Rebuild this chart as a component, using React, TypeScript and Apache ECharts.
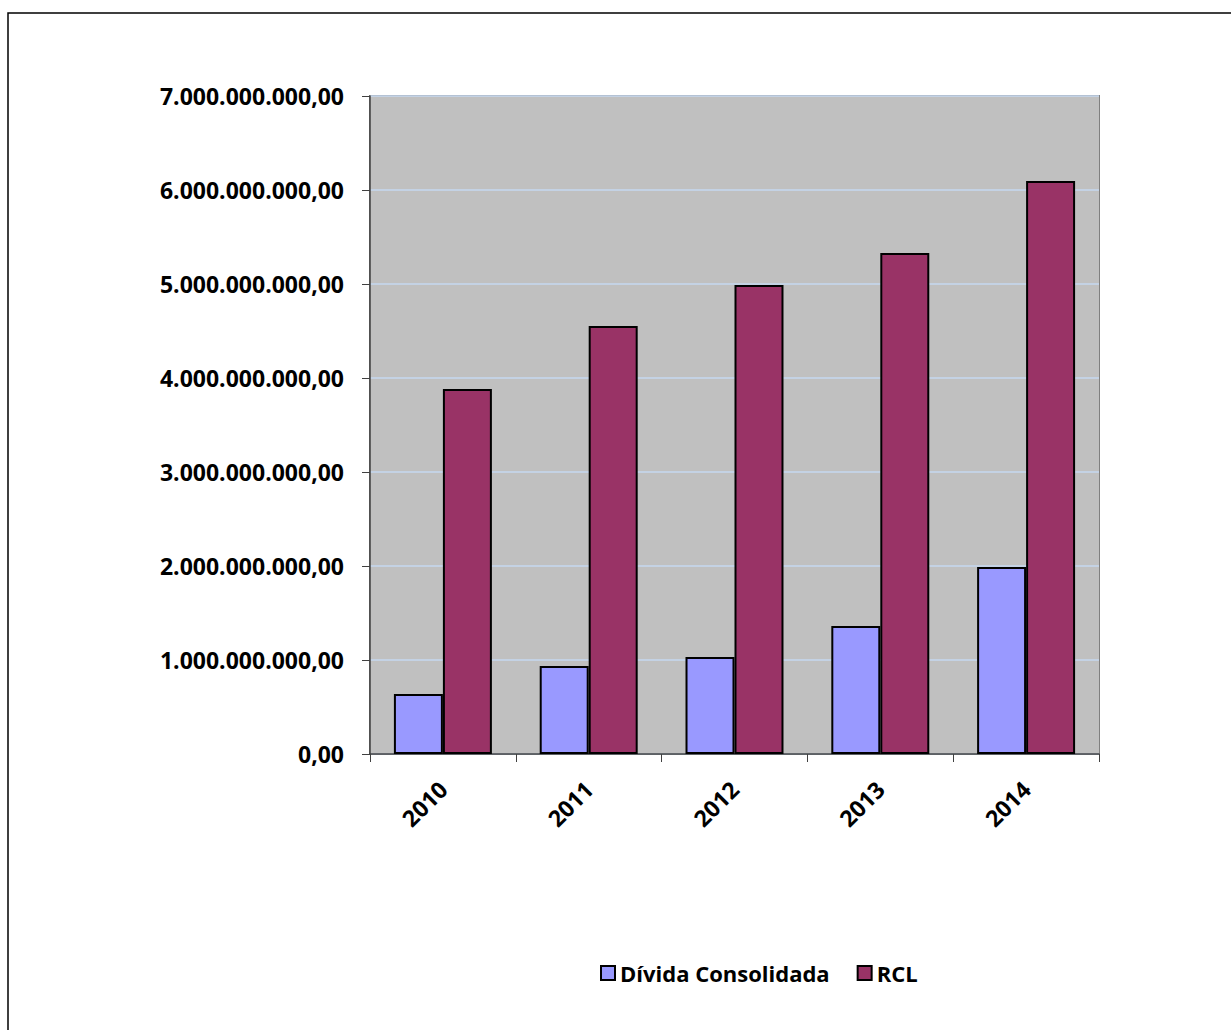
import React, { useEffect, useRef } from "react";
import * as echarts from "echarts";

const categories = ["2010", "2011", "2012", "2013", "2014"];
const dividaConsolidada = [638000000, 936000000, 1032000000, 1362000000, 1989000000];
const rcl = [3883000000, 4553000000, 4989000000, 5330000000, 6096000000];
const seriesNames = ["Dívida Consolidada", "RCL"];

function fmt(v: number): string {
  const s = Math.round(v).toString().replace(/\B(?=(\d{3})+(?!\d))/g, ".");
  return s + ",00";
}

export default function App() {
  const ref = useRef<HTMLDivElement>(null);
  useEffect(() => {
    document.body.style.margin = "0";
    const chart = echarts.init(ref.current!, null, { renderer: "svg" });
    const font = "'Open Sans', sans-serif";
    chart.setOption({
      animation: false,
      backgroundColor: "#ffffff",
      graphic: [
        {
          type: "rect",
          shape: { x: 8, y: 13, width: 1240, height: 1040 },
          style: { fill: "none", stroke: "#000000", lineWidth: 1.5 },
          silent: true,
        },
        {
          type: "rect",
          shape: { x: 370, y: 96, width: 729, height: 658 },
          style: { fill: "none", stroke: "#808080", lineWidth: 2 },
          silent: true,
          z: -1,
        },
      ],
      grid: {
        left: 370,
        top: 96,
        width: 729,
        height: 658,
        show: true,
        backgroundColor: "#C0C0C0",
        borderWidth: 0,
      },
      legend: {
        bottom: 41,
        left: 595,
        itemWidth: 14,
        itemHeight: 14,
        itemGap: 27,
        icon: "rect",
        textStyle: { fontFamily: font, fontWeight: "bold", fontSize: 22, color: "#000" },
        data: seriesNames,
      },
      xAxis: {
        type: "category",
        data: categories,
        axisLine: { lineStyle: { color: "#404040", width: 1.5 } },
        axisTick: { show: true, length: 8, alignWithLabel: false, lineStyle: { color: "#404040" } },
        axisLabel: {
          rotate: 45,
          margin: 31,
          fontFamily: font,
          fontWeight: "bold",
          fontSize: 23,
          color: "#000",
        },
      },
      yAxis: {
        type: "value",
        min: 0,
        max: 7000000000,
        interval: 1000000000,
        axisLine: { show: true, lineStyle: { color: "#404040", width: 1.5 } },
        axisTick: { show: true, length: 8, lineStyle: { color: "#404040" } },
        splitLine: { lineStyle: { color: "#C6D9F1", width: 1.5 } },
        axisLabel: {
          formatter: (v: number) => fmt(v),
          margin: 26,
          fontFamily: font,
          fontWeight: "bold",
          fontSize: 23,
          color: "#000",
        },
      },
      series: [
        {
          name: seriesNames[0],
          type: "bar",
          data: dividaConsolidada,
          barWidth: "33.6%",
          barGap: "0%",
          itemStyle: { color: "#9999FF", borderColor: "#000", borderWidth: 2 },
        },
        {
          name: seriesNames[1],
          type: "bar",
          data: rcl,
          barWidth: "33.6%",
          barGap: "0%",
          itemStyle: { color: "#993366", borderColor: "#000", borderWidth: 2 },
        },
      ],
    });
    return () => chart.dispose();
  }, []);
  return <div ref={ref} style={{ width: 1231, height: 1030 }} />;
}
